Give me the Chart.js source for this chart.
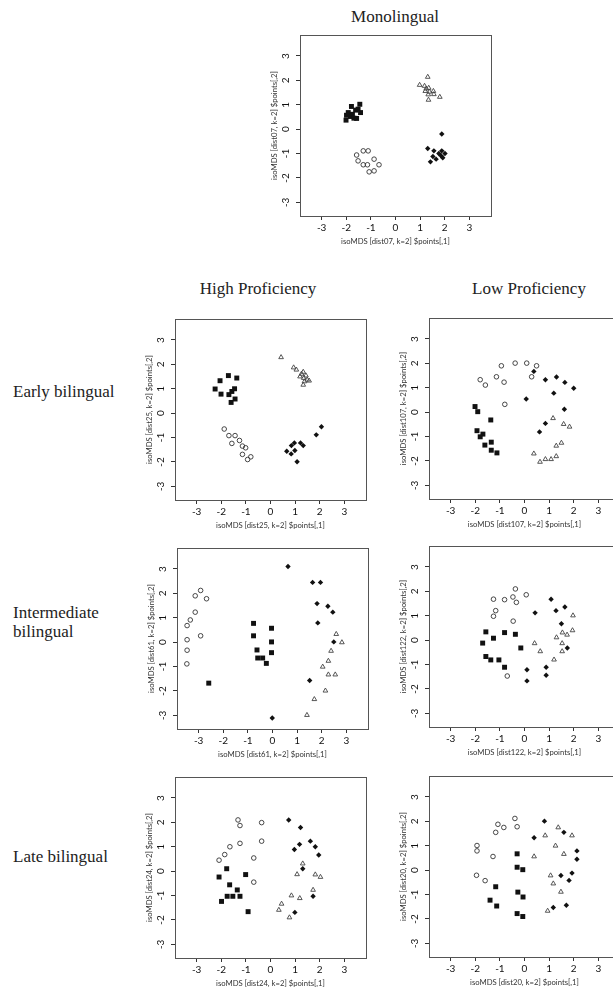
<!DOCTYPE html>
<html>
<head>
<meta charset="utf-8">
<script src="https://cdn.jsdelivr.net/npm/chart.js@4.4.0/dist/chart.umd.min.js"></script>
<style>
body { margin:0; background:#fff; width:613px; height:990px; overflow:hidden; position:relative; }
canvas { position:absolute; }
.lbl { position:absolute; font-family:"Liberation Serif", serif; font-size:17px; color:#222; line-height:19px; white-space:nowrap; }
.ttl { text-align:center; width:200px; }
</style>
</head>
<body>
<div class="lbl ttl" style="left:295px; top:7px;">Monolingual</div>
<div class="lbl ttl" style="left:158px; top:279px;">High Proficiency</div>
<div class="lbl ttl" style="left:429px; top:279px;">Low Proficiency</div>
<div class="lbl" style="left:13px; top:382px;">Early bilingual</div>
<div class="lbl" style="left:13px; top:603px;">Intermediate<br>bilingual</div>
<div class="lbl" style="left:13px; top:847px;">Late bilingual</div>
<script>
// tick values on both axes
var tickVals = [-3, -2, -1, 0, 1, 2, 3];

// Monolingual (dist07)
var monoSq = [[-2.01,0.37],[-1.99,0.57],[-1.92,0.68],[-1.83,0.52],[-1.79,0.93],[-1.75,0.61],[-1.69,0.45],[-1.62,0.78],[-1.58,0.44],[-1.52,0.82],[-1.45,1.02],[-1.42,0.68]];
var monoCi = [[-1.58,-1.06],[-1.52,-1.30],[-1.31,-0.89],[-1.11,-0.89],[-1.31,-1.46],[-1.14,-1.46],[-1.07,-1.75],[-0.87,-1.23],[-0.87,-1.71],[-0.67,-1.46]];
var monoTr = [[1.31,2.14],[0.98,1.81],[1.18,1.77],[1.25,1.66],[1.35,1.69],[1.21,1.56],[1.38,1.53],[1.33,1.42],[1.54,1.56],[1.56,1.43],[1.80,1.32],[1.34,1.20]];
var monoDi = [[1.88,-0.20],[1.31,-0.79],[1.56,-0.89],[1.88,-0.89],[1.76,-1.00],[2.01,-1.00],[1.85,-1.09],[1.52,-1.12],[1.65,-1.23],[1.92,-1.17],[1.42,-1.34]];

// Early bilingual, high proficiency (dist25)
var heSq = [[-2.25,0.99],[-2.05,1.33],[-2.01,0.78],[-1.71,1.54],[-1.69,0.76],[-1.57,0.89],[-1.60,0.44],[-1.46,1.00],[-1.44,0.58],[-1.37,1.44]];
var heCi = [[-1.88,-0.65],[-1.69,-0.92],[-1.44,-0.92],[-1.57,-1.24],[-1.26,-1.12],[-1.14,-1.35],[-1.01,-1.42],[-1.14,-1.69],[-0.93,-1.90],[-0.80,-1.79]];
var heTr = [[0.43,2.29],[0.94,1.87],[1.05,1.78],[1.26,1.61],[1.33,1.69],[1.44,1.54],[1.20,1.50],[1.35,1.44],[1.49,1.37],[1.38,1.30],[1.57,1.33],[1.33,1.16]];
var heDi = [[2.07,-0.56],[1.86,-0.89],[0.66,-1.56],[0.85,-1.33],[0.97,-1.22],[0.99,-1.53],[0.84,-1.67],[1.22,-1.22],[1.33,-1.33],[1.08,-1.99]];

// Early bilingual, low proficiency (dist107)
var leSq = [[-2.01,0.23],[-1.90,0.02],[-1.37,-0.32],[-1.93,-0.76],[-1.69,-0.90],[-1.80,-1.01],[-1.61,-1.35],[-1.35,-1.23],[-1.35,-1.56],[-1.12,-1.67]];
var leCi = [[-1.80,1.33],[-1.59,1.11],[-1.14,1.45],[-0.94,1.90],[-0.83,1.23],[-0.80,0.32],[-0.38,2.01],[0.09,2.01],[0.29,1.45],[0.49,1.90]];
var leTr = [[1.16,-0.25],[1.59,-0.49],[1.83,-0.60],[1.29,-1.38],[1.50,-1.26],[0.38,-1.70],[0.63,-2.04],[0.85,-1.93],[1.08,-1.93],[1.29,-1.81]];
var leDi = [[0.38,1.67],[0.85,1.33],[1.30,1.44],[1.19,0.78],[1.64,1.22],[2.00,0.98],[0.07,0.54],[1.62,0.12],[0.85,-0.46],[0.61,-0.81]];

// Intermediate bilingual, high proficiency (dist61)
var hiSq = [[-0.77,0.77],[-0.77,0.26],[-0.63,-0.32],[-0.60,-0.65],[-0.40,-0.65],[-0.25,-0.87],[-0.04,0.57],[-0.04,0.01],[-0.04,-0.43],[-2.59,-1.68]];
var hiCi = [[-2.92,2.12],[-3.14,1.90],[-2.68,1.78],[-3.14,1.23],[-3.34,0.91],[-3.47,0.68],[-2.92,0.26],[-3.47,0.10],[-3.47,-0.33],[-3.48,-0.89]];
var hiTr = [[2.59,0.33],[2.82,-0.01],[2.38,-0.36],[2.04,-1.01],[2.27,-0.77],[2.27,-1.33],[2.55,-1.33],[2.15,-1.99],[1.70,-2.34],[1.40,-2.99]];
var hiDi = [[0.63,3.10],[1.63,2.45],[1.95,2.45],[1.81,1.58],[2.25,1.47],[2.45,1.23],[1.84,0.79],[2.49,0.01],[1.51,-1.57],[-0.01,-3.11]];

// Intermediate bilingual, low proficiency (dist122)
var liSq = [[-1.57,0.34],[-1.70,-0.12],[-1.26,0.08],[-1.57,-0.67],[-1.37,-0.81],[-1.04,-0.81],[-0.81,0.31],[-0.37,0.24],[-0.15,-0.32],[-0.81,-1.11]];
var liCi = [[-1.26,1.68],[-1.17,1.21],[-1.26,0.98],[-0.81,1.66],[-0.47,1.77],[-0.37,2.10],[-0.33,1.55],[0.07,1.86],[-0.46,0.78],[-0.70,-1.47]];
var liTr = [[1.97,1.01],[1.95,0.40],[1.54,0.31],[1.30,0.11],[1.73,0.22],[1.53,-0.13],[1.53,-0.46],[0.41,-0.13],[0.64,-0.46],[1.20,-0.80]];
var liDi = [[0.43,1.12],[1.08,1.68],[1.28,1.21],[1.64,1.36],[1.50,0.67],[1.74,-0.32],[0.88,-1.11],[0.88,-1.44],[0.10,-1.21],[0.10,-1.67]];

// Late bilingual, high proficiency (dist24)
var hlSq = [[-1.78,0.10],[-2.09,-0.24],[-1.66,-0.56],[-1.01,-0.14],[-1.35,-0.77],[-1.76,-1.03],[-1.53,-1.03],[-1.24,-1.03],[-1.99,-1.24],[-0.91,-1.66]];
var hlCi = [[-1.32,2.10],[-1.24,1.87],[-0.36,1.99],[-1.24,1.14],[-0.36,1.23],[-1.65,1.00],[-1.86,0.68],[-2.09,0.45],[-0.68,0.54],[-0.68,-0.45]];
var hlTr = [[1.31,0.31],[1.08,-0.13],[1.82,-0.14],[2.03,-0.24],[1.73,-0.77],[0.85,-1.00],[1.19,-1.11],[0.45,-1.34],[0.34,-1.59],[0.77,-1.90]];
var hlDi = [[0.74,2.10],[1.22,1.79],[1.18,1.10],[0.97,0.89],[1.62,1.23],[1.82,1.00],[1.96,0.66],[1.31,0.10],[1.73,-1.03],[0.99,-1.69]];

// Late bilingual, low proficiency (dist20)
var llSq = [[-0.30,0.67],[-0.30,0.12],[-0.07,0.02],[-1.17,-0.68],[-0.27,-0.90],[-0.06,-1.10],[-1.40,-1.23],[-1.13,-1.47],[-0.30,-1.78],[-0.07,-1.90]];
var llCi = [[-0.39,2.12],[-1.08,1.88],[-0.84,1.75],[-0.30,1.78],[-1.17,1.55],[-1.93,1.01],[-1.93,0.79],[-1.28,0.56],[-1.95,-0.21],[-1.60,-0.43]];
var llTr = [[1.37,1.75],[0.84,1.42],[1.93,1.42],[1.26,1.00],[1.60,0.66],[0.39,0.56],[1.06,-0.22],[1.17,-0.55],[1.48,-0.89],[0.94,-1.67]];
var llDi = [[0.81,2.01],[0.39,1.33],[1.60,1.55],[2.13,0.79],[2.13,0.45],[1.93,-0.12],[1.48,-0.22],[1.81,-0.42],[1.70,-1.44],[1.17,-1.53]];

var BOX_W = 191, BOX_H = 181;
var YAXIS_W = 30, XAXIS_H = 30, PAD_T = 14, PAD_R = 14;

var panels = [
  { left: 300, top: 35,  dist: 'dist07',  sets: [monoSq, monoCi, monoTr, monoDi] },
  { left: 175, top: 319, dist: 'dist25',  sets: [heSq, heCi, heTr, heDi] },
  { left: 429, top: 318, dist: 'dist107', sets: [leSq, leCi, leTr, leDi] },
  { left: 177, top: 548, dist: 'dist61',  sets: [hiSq, hiCi, hiTr, hiDi] },
  { left: 429, top: 546, dist: 'dist122', sets: [liSq, liCi, liTr, liDi] },
  { left: 175, top: 777, dist: 'dist24',  sets: [hlSq, hlCi, hlTr, hlDi] },
  { left: 429, top: 776, dist: 'dist20',  sets: [llSq, llCi, llTr, llDi] }
];

var tickFont = '10px Lato';

function toXY(arr) {
  return arr.map(function(p) { return { x: p[0], y: p[1] }; });
}

// R style box round the plot region, plus the y tick labels turned upright like R's las=0
var boxPlugin = {
  id: 'box',
  afterDraw: function(chart) {
    var a = chart.chartArea, ctx = chart.ctx, ys = chart.scales.y;
    ctx.save();
    ctx.strokeStyle = '#555';
    ctx.lineWidth = 1;
    ctx.strokeRect(Math.round(a.left) + 0.5, Math.round(a.top) + 0.5, Math.round(a.right - a.left), Math.round(a.bottom - a.top));
    ctx.fillStyle = '#111';
    ctx.font = tickFont;
    ctx.textAlign = 'center';
    ctx.textBaseline = 'middle';
    ys.ticks.forEach(function(t) {
      ctx.save();
      ctx.translate(a.left - 14, ys.getPixelForValue(t.value));
      ctx.rotate(-Math.PI / 2);
      ctx.fillText(String(t.value), 0, 0);
      ctx.restore();
    });
    ctx.restore();
  }
};

function axisOpts(title, isY) {
  var o = {
    type: 'linear',
    min: isY ? -3.56 : -3.88,
    max: isY ? 3.86 : 3.88,
    afterBuildTicks: function(s) { s.ticks = tickVals.map(function(v) { return { value: v }; }); },
    grid: { display: true, drawOnChartArea: false, drawTicks: true, tickLength: 4, color: '#333', lineWidth: 1 },
    border: { display: false },
    ticks: { font: { family: 'Lato', size: 10 }, color: '#111', padding: 2, autoSkip: false, maxRotation: 0 },
    title: { display: true, text: title, font: { family: 'Lato', size: 7.7 }, color: '#333', padding: 0 }
  };
  if (isY) {
    o.afterFit = function(s) { s.width = YAXIS_W; };
    o.ticks.display = false;
  } else {
    o.afterFit = function(s) { s.height = XAXIS_H; };
  }
  return o;
}

function makePanel(p) {
  var cv = document.createElement('canvas');
  var W = YAXIS_W + BOX_W + PAD_R, H = PAD_T + BOX_H + XAXIS_H;
  cv.width = W; cv.height = H;
  cv.style.width = W + 'px'; cv.style.height = H + 'px';
  document.body.appendChild(cv);

  var chart = new Chart(cv, {
    type: 'scatter',
    data: {
      datasets: [
        { data: toXY(p.sets[0]), pointStyle: 'rect', pointRadius: 3.5, backgroundColor: '#111', borderWidth: 0 },
        { data: toXY(p.sets[1]), pointStyle: 'circle', pointRadius: 2.3, backgroundColor: 'rgba(0,0,0,0)', borderColor: '#333', borderWidth: 0.9 },
        { data: toXY(p.sets[2]), pointStyle: 'triangle', pointRadius: 2.7, backgroundColor: 'rgba(0,0,0,0)', borderColor: '#444', borderWidth: 0.9 },
        { data: toXY(p.sets[3]), pointStyle: 'rectRot', pointRadius: 2.7, backgroundColor: '#111', borderWidth: 0 }
      ]
    },
    options: {
      responsive: false,
      animation: false,
      layout: { padding: { left: 0, top: PAD_T, right: PAD_R, bottom: 0 } },
      plugins: { legend: { display: false }, tooltip: { enabled: false } },
      scales: {
        x: axisOpts('isoMDS [' + p.dist + ', k=2] $points[,1]', false),
        y: axisOpts('isoMDS [' + p.dist + ', k=2] $points[,2]', true)
      }
    },
    plugins: [boxPlugin]
  });
  // put the plot box where the reference has it
  cv.style.left = (p.left - chart.chartArea.left) + 'px';
  cv.style.top = (p.top - chart.chartArea.top) + 'px';
}

panels.forEach(makePanel);
</script>
</body>
</html>
